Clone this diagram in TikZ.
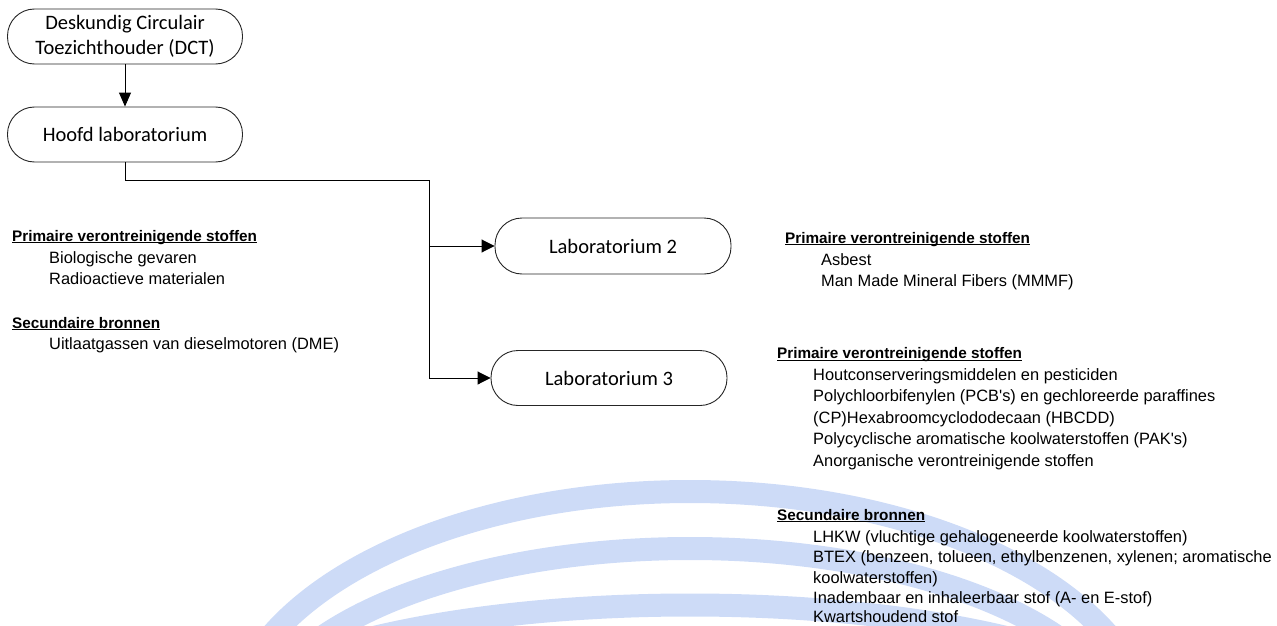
\documentclass[tikz,border=0pt]{standalone}
\usepackage{fontspec}
\setmainfont{Liberation Sans}
\newfontfamily\arialf{Liberation Sans}
\newfontfamily\calf{Carlito}
\usetikzlibrary{arrows.meta}
\definecolor{wmblue}{RGB}{205,219,247}
\newcommand\ulhead[1]{\setbox0\hbox{\fontsize{15.3}{18}\selectfont\bfseries #1}\rlap{\rule[-2pt]{\wd0}{1pt}}\box0}
\tikzset{
  boxnode/.style={draw=black!85, line width=0.9pt, minimum width=235pt, minimum height=55pt,
    rounded corners=27pt, inner sep=0pt, align=center,
    font=\calf\fontsize{20.5}{25}\selectfont},
  txt/.style={anchor=base west, inner sep=0pt, font=\arialf\fontsize{16.4}{19}\selectfont},
  conn/.style={draw=black, line width=0.9pt},
  arr/.style={conn, -{Triangle[length=13pt,width=13pt]}},
  band/.style={draw=wmblue, line width=23pt}
}
\begin{document}
\begin{tikzpicture}[x=1pt,y=-1pt]
\useasboundingbox (0,0) rectangle (1277,626);
% watermark
\begin{scope}
\clip (0,0) rectangle (1277,626);
\draw[band] (690,741.5) ellipse [x radius=462, y radius=250];
\draw[band] (690,741.5) ellipse [x radius=437, y radius=193];
\draw[band] (690,741.5) ellipse [x radius=488, y radius=136.5];
\end{scope}
% boxes
\node[boxnode] (dct) at (125,36.5) {Deskundig Circulair\\Toezichthouder (DCT)};
\node[boxnode] (hoofd) at (125,134.5) {Hoofd laboratorium};
\node[boxnode, minimum width=236pt, minimum height=56pt] (lab2) at (613,246) {Laboratorium 2};
\node[boxnode, minimum width=236pt] (lab3) at (609,378) {Laboratorium 3};
% connectors
\coordinate (trunk) at (429,180);
\draw[arr, -{Triangle[length=14pt,width=12pt]}] (dct) -- (hoofd);
\draw[conn] (hoofd.south) |- (trunk);
\draw[arr] (trunk) |- (lab2.west);
\draw[arr] (trunk) |- (lab3.west);
% left text block
\node[txt] (lh1) at (12,241) {\ulhead{Primaire verontreinigende stoffen}};
\node[txt] (l1) at (49,263) {Biologische gevaren};
\node[txt] (l2) at (49,284) {Radioactieve materialen};
\node[txt] (lh2) at (12,328) {\ulhead{Secundaire bronnen}};
\node[txt] (l3) at (49,349.5) {Uitlaatgassen van dieselmotoren (DME)};
% right block 1
\node[txt] (r1h) at (785,243) {\ulhead{Primaire verontreinigende stoffen}};
\node[txt] (r11) at (821,265) {Asbest};
\node[txt] (r12) at (821,286) {Man Made Mineral Fibers (MMMF)};
% right block 2
\node[txt] (r2h) at (777,358.5) {\ulhead{Primaire verontreinigende stoffen}};
\node[txt] (r21) at (813,380) {Houtconserveringsmiddelen en pesticiden};
\node[txt] (r22) at (813,401.5) {Polychloorbifenylen (PCB's) en gechloreerde paraffines};
\node[txt] (r23) at (813,423) {(CP)Hexabroomcyclododecaan (HBCDD)};
\node[txt] (r24) at (813,444.5) {Polycyclische aromatische koolwaterstoffen (PAK's)};
\node[txt] (r25) at (813,466) {Anorganische verontreinigende stoffen};
% right block 3
\node[txt] (r3h) at (777,520) {\ulhead{Secundaire bronnen}};
\node[txt] (r31) at (813,542) {LHKW (vluchtige gehalogeneerde koolwaterstoffen)};
\node[txt] (r32) at (813,562.5) {BTEX (benzeen, tolueen, ethylbenzenen, xylenen; aromatische};
\node[txt] (r33) at (813,583) {koolwaterstoffen)};
\node[txt] (r34) at (813,603) {Inadembaar en inhaleerbaar stof (A- en E-stof)};
\node[txt] (r35) at (813,622) {Kwartshoudend stof};
\end{tikzpicture}
\end{document}
